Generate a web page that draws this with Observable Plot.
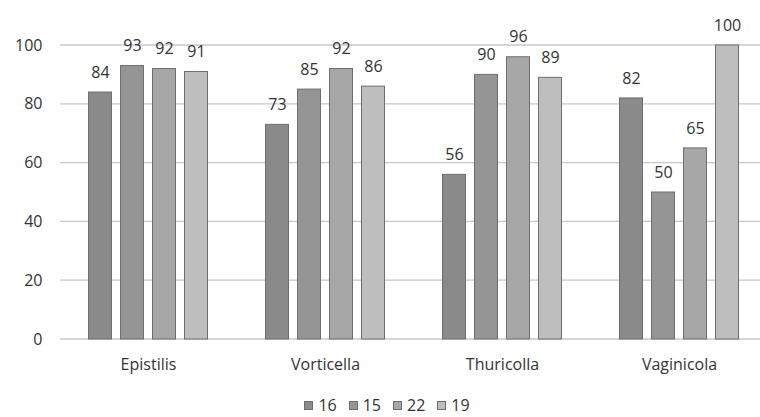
<!DOCTYPE html>
<html>
<head>
<meta charset="utf-8">
<script src="https://cdn.jsdelivr.net/npm/d3@7"></script>
<script src="https://cdn.jsdelivr.net/npm/@observablehq/plot@0.6"></script>
<style>
  html, body { margin: 0; padding: 0; background: #fff; }
  body { width: 760px; height: 417px; overflow: hidden; font-family: "Open Sans", sans-serif; }
  #legend { display: flex; justify-content: center; gap: 12px; font-size: 16px; line-height: 18px; color: #333; margin-top: 11px; margin-left: 14px; }
  #legend span.item { display: flex; align-items: center; gap: 5px; }
  #legend span.sw { display: inline-block; width: 9px; height: 9px; border: 1px solid #6e6e6e; box-sizing: border-box; }
</style>
</head>
<body>
<div id="chart"></div>
<div id="legend"></div>
<script>
const categories = ["Epistilis", "Vorticella", "Thuricolla", "Vaginicola"];
const seriesNames = ["16", "15", "22", "19"];
const values16 = [84, 73, 56, 82];
const values15 = [93, 85, 90, 50];
const values22 = [92, 92, 96, 65];
const values19 = [91, 86, 89, 100];
const yTicks = [0, 20, 40, 60, 80, 100];
const colors = ["#8a8a8a", "#959595", "#a7a7a7", "#bebebe"];

const seriesValues = [values16, values15, values22, values19];
const data = [];
categories.forEach((c, i) => {
  seriesNames.forEach((s, j) => {
    data.push({category: c, series: s, value: seriesValues[j][i]});
  });
});

const chart = Plot.plot({
  width: 760,
  height: 385,
  marginLeft: 60,
  marginRight: -8,
  marginTop: 45,
  marginBottom: 46,
  style: {fontFamily: "'Open Sans', sans-serif", fontSize: "16px", color: "#333", background: "#fff"},
  fx: {domain: categories, paddingInner: 0.23, paddingOuter: 0.115, label: null, axis: "bottom", tickSize: 0, tickPadding: 19},
  x: {domain: seriesNames, padding: 0.25, axis: null},
  y: {domain: [0, 100], ticks: yTicks, label: null, tickSize: 0, tickPadding: 38},
  color: {domain: seriesNames, range: colors},
  marks: [
    Plot.barY(data, {fx: "category", x: "series", y: "value", fill: "series", stroke: "#6e6e6e", strokeWidth: 1, insetLeft: 0.5, insetRight: 0.5}),
    Plot.text(data, {fx: "category", x: "series", y: "value", text: d => String(d.value), dy: -20, fontSize: 16, fill: "#333"})
  ]
});

// horizontal gridlines across the whole plot, positioned through Plot's y scale
const yScale = chart.scale("y");
const svg = d3.select(chart);
const grid = svg.insert("g", ":first-child").attr("class", "grid");
const styleEl = chart.querySelector("style");
if (styleEl) styleEl.after(grid.node());
grid.selectAll("line")
  .data(yTicks)
  .join("line")
  .attr("x1", 60)
  .attr("x2", 760)
  .attr("y1", d => yScale.apply(d))
  .attr("y2", d => yScale.apply(d))
  .attr("stroke", "#c9c9c9")
  .attr("stroke-width", 1.3);

document.getElementById("chart").appendChild(chart);

const legend = document.getElementById("legend");
seriesNames.forEach((s, i) => {
  const item = document.createElement("span");
  item.className = "item";
  const sw = document.createElement("span");
  sw.className = "sw";
  sw.style.background = colors[i];
  item.appendChild(sw);
  item.appendChild(document.createTextNode(s));
  legend.appendChild(item);
});
</script>
</body>
</html>
